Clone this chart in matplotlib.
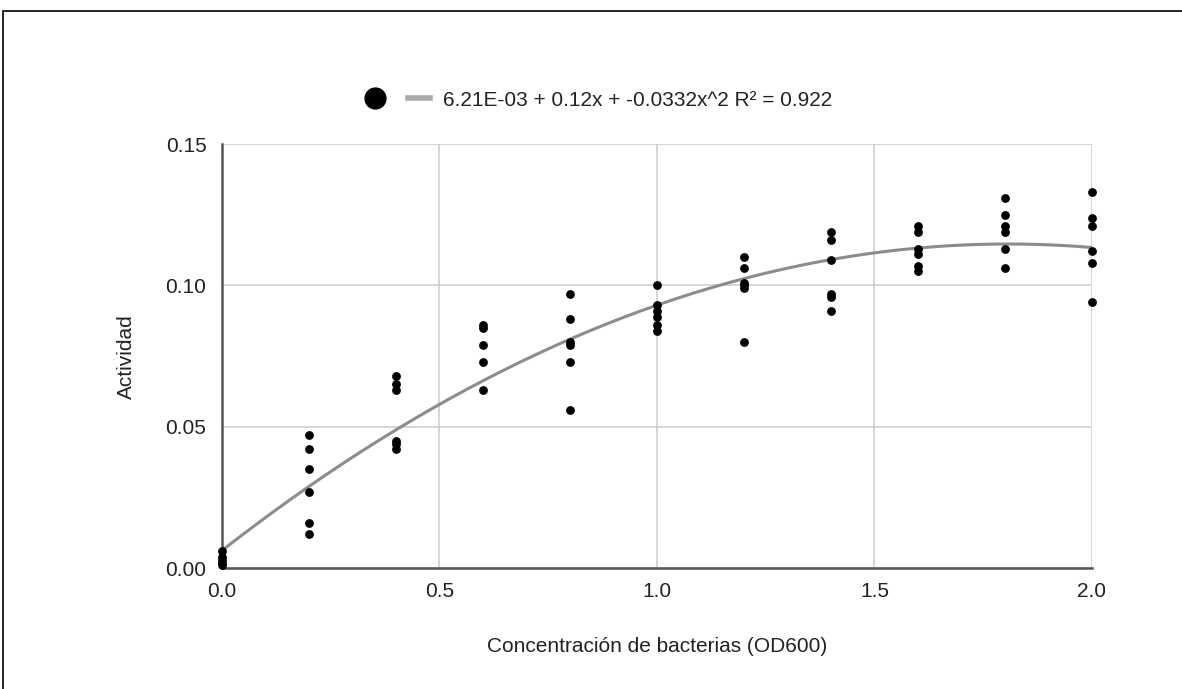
"""Actividad vs concentración de bacterias, con ajuste polinómico de grado 2."""

import matplotlib

matplotlib.use("Agg")

import matplotlib.pyplot as plt
import numpy as np
from matplotlib.lines import Line2D
from matplotlib.patches import Rectangle

plt.rcParams["font.family"] = ["Liberation Sans", "DejaVu Sans"]

# Data
od_levels = [0.0, 0.2, 0.4, 0.6, 0.8, 1.0, 1.2, 1.4, 1.6, 1.8, 2.0]
activity = [
    [0.006, 0.004, 0.003, 0.002, 0.001],
    [0.047, 0.042, 0.035, 0.027, 0.016, 0.012],
    [0.068, 0.065, 0.063, 0.045, 0.044, 0.042],
    [0.086, 0.085, 0.079, 0.073, 0.063],
    [0.097, 0.088, 0.080, 0.079, 0.073, 0.056],
    [0.100, 0.093, 0.091, 0.089, 0.086, 0.084],
    [0.110, 0.106, 0.101, 0.100, 0.099, 0.080],
    [0.119, 0.116, 0.109, 0.097, 0.096, 0.091],
    [0.121, 0.119, 0.113, 0.111, 0.107, 0.105],
    [0.131, 0.125, 0.121, 0.119, 0.113, 0.106],
    [0.133, 0.124, 0.121, 0.112, 0.108, 0.094],
]
# Trendline coefficients (constant, x, x^2) from the legend
trend_coefs = [6.21e-03, 0.12, -0.0332]
trend_label = "6.21E-03 + 0.12x + -0.0332x^2 R² = 0.922"

x_ticks = [0.0, 0.5, 1.0, 1.5, 2.0]
y_ticks = [0.00, 0.05, 0.10, 0.15]

W, H = 1182, 689
FS = 15
TXT = "#222222"
fig = plt.figure(figsize=(W / 100, H / 100), dpi=100)

# outer frame of the screenshot
fig.patches.append(
    Rectangle((3 / W, -0.1), 1.2, 1.1 - 11.5 / H, transform=fig.transFigure,
              fill=False, edgecolor="black", linewidth=1.2)
)

ax = fig.add_axes([221.7 / W, 1 - 568.3 / H, (1092 - 221.7) / W, (568.3 - 144) / H])

xs = np.concatenate([[x] * len(v) for x, v in zip(od_levels, activity)])
ys = np.concatenate(activity)
ax.scatter(xs, ys, s=40, color="black", zorder=3, clip_on=False, linewidths=0)

xt = np.linspace(0, 2.0, 200)
yt = trend_coefs[0] + trend_coefs[1] * xt + trend_coefs[2] * xt**2
ax.plot(xt, yt, color="#8c8c8c", linewidth=2.2, zorder=2)

ax.set_xlim(0, 2.0)
ax.set_ylim(0, 0.15)
ax.set_xticks(x_ticks)
ax.set_yticks(y_ticks)
ax.set_xticklabels([f"{v:.1f}" for v in x_ticks])
ax.set_yticklabels([f"{v:.2f}" for v in y_ticks])
ax.tick_params(axis="x", length=0, labelsize=FS, colors=TXT, pad=10)
ax.tick_params(axis="y", length=0, labelsize=FS, colors=TXT, pad=11)
ax.grid(True, color="#cccccc", linewidth=1.1)
ax.set_axisbelow(True)
for side in ("top", "right"):
    ax.spines[side].set_visible(False)
for side in ("left", "bottom"):
    ax.spines[side].set_color("#555555")
    ax.spines[side].set_linewidth(1.8)

ax.set_xlabel("Concentración de bacterias (OD600)", fontsize=FS, color=TXT, labelpad=26)
ax.set_ylabel("Actividad", fontsize=FS, color=TXT, labelpad=21)

handles = [
    Line2D([], [], marker="o", linestyle="none", color="black", markersize=15),
    Line2D([], [], color="#aaaaaa", linewidth=4),
]
fig.legend(handles, ["", trend_label], loc="center left", ncol=2, frameon=False,
           bbox_to_anchor=(345 / W, 1 - 100 / H), fontsize=FS, handlelength=1.1,
           handletextpad=0.6, columnspacing=0.4, labelcolor=TXT)

fig.savefig("out.png", dpi=100)
